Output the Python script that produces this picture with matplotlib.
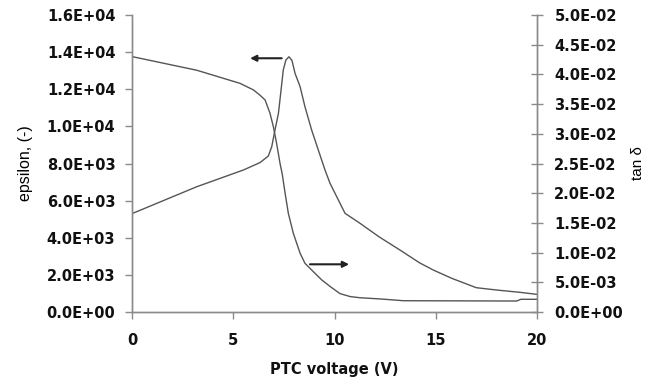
import matplotlib.pyplot as plt
from matplotlib.ticker import FuncFormatter, MultipleLocator

plt.rcParams['font.family'] = ['Liberation Sans', 'DejaVu Sans']

# permittivity vs PTC voltage (left axis)
volt_eps = [0, 3.2, 5.5, 6.32, 6.73, 6.9, 7.06, 7.23, 7.36, 7.47, 7.6, 7.75, 7.9,
            8.05, 8.3, 8.54, 8.87, 9.2, 9.53, 9.78, 10.19, 10.52, 11.26, 12.2,
            13.23, 14.2, 14.88, 15.8, 17.0, 18.0, 19.16, 20]
eps = [5300, 6750, 7650, 8050, 8400, 8905, 9805, 10700, 11960, 13040, 13580, 13750,
       13550, 12860, 12140, 11060, 9805, 8727, 7650, 6930, 6034, 5316, 4778, 4050,
       3340, 2650, 2260, 1810, 1310, 1185, 1060, 950]

# loss tangent vs PTC voltage (right axis)
volt_tan = [0, 3.2, 5.33, 5.99, 6.32, 6.57, 6.81, 6.98, 7.14, 7.31, 7.42, 7.56,
            7.72, 7.97, 8.3, 8.54, 8.95, 9.37, 9.78, 10.27, 10.77, 11.26, 12.25,
            13.4, 19.0, 19.2, 20]
tan_d = [0.0430, 0.0407, 0.0385, 0.0374, 0.0365, 0.0357, 0.0335, 0.0312, 0.0284,
         0.0250, 0.0232, 0.0200, 0.0166, 0.0132, 0.0099, 0.0082, 0.0068, 0.0054,
         0.0043, 0.0031, 0.0026, 0.0024, 0.0022, 0.0019, 0.00185, 0.00214, 0.00214]

# arrow tail/head (x, y) telling which axis each curve belongs to
eps_arrow = ((7.39, 13670), (5.83, 13670))
tan_arrow = ((8.79, 0.00803), (10.72, 0.00803))

axis_grey = '#8a8a8a'
line_grey = '#555555'
wide = ['DejaVu Sans']

fig, ax = plt.subplots(figsize=(6.51, 3.85), dpi=100)
fig.subplots_adjust(left=0.2028, right=0.8249, top=0.961, bottom=0.1896)
ax2 = ax.twinx()

ax.plot(volt_eps, eps, color=line_grey, lw=1.0)
ax2.plot(volt_tan, tan_d, color=line_grey, lw=1.0)

ax.annotate('', xy=eps_arrow[1], xytext=eps_arrow[0],
            arrowprops=dict(arrowstyle='-|>', color='#222222', lw=1.5,
                            mutation_scale=9, shrinkA=0, shrinkB=0))
ax2.annotate('', xy=tan_arrow[1], xytext=tan_arrow[0],
             arrowprops=dict(arrowstyle='-|>', color='#222222', lw=1.5,
                             mutation_scale=9, shrinkA=0, shrinkB=0))

ax.set_xlim(0, 20)
ax.set_ylim(0, 16000)
ax2.set_ylim(0, 0.05)
ax.xaxis.set_major_locator(MultipleLocator(5))
ax.yaxis.set_major_locator(MultipleLocator(2000))
ax2.yaxis.set_major_locator(MultipleLocator(0.005))

sci = FuncFormatter(lambda v, pos: f'{v:.1E}')
ax.yaxis.set_major_formatter(sci)
ax2.yaxis.set_major_formatter(sci)

for a in (ax, ax2):
    a.spines['top'].set_visible(False)
    for s in ('left', 'right', 'bottom'):
        a.spines[s].set_color(axis_grey)
        a.spines[s].set_linewidth(1.0)
    a.tick_params(colors=axis_grey, labelcolor='#111111', width=1.0, length=5,
                  labelsize=10.5)
    for lab in a.get_xticklabels() + a.get_yticklabels():
        lab.set_fontweight('bold')
        lab.set_family(wide)
ax2.tick_params(axis='y', direction='inout', length=9, pad=8)
ax.tick_params(axis='y', pad=7)
ax.tick_params(axis='x', pad=10)

ax.set_xlabel('PTC voltage (V)', labelpad=10, fontsize=10.5, fontweight='bold',
              family=wide, color='#111111')
ax.set_ylabel('epsilon, (-)', labelpad=10, fontsize=11.5)
ax2.set_ylabel('tan δ', labelpad=6, fontsize=11)

fig.savefig('out.png', dpi=100)
